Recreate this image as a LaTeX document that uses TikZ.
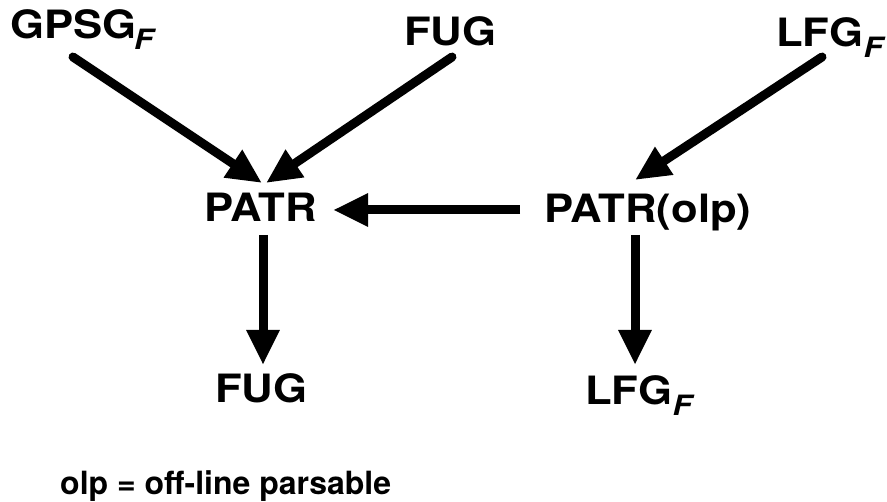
\documentclass[tikz,border=0pt]{standalone}
\usepackage{fontspec}
\setmainfont{TeX Gyre Heros}
\usetikzlibrary{arrows.meta}
\newcommand\mylbl[1]{\scalebox{1.12}[1]{\fontsize{39}{41}\selectfont\bfseries #1}}
\newcommand\subF{\raisebox{-11pt}{\fontsize{28}{28}\selectfont\bfseries\itshape F}}
\tikzset{
  lbl/.style={inner sep=0pt, anchor=base west},
  arr/.style={line width=9pt, -{Triangle[length=35pt,width=31pt]}},
}
\begin{document}
\begin{tikzpicture}[x=1pt,y=-1pt]
\useasboundingbox[fill=white] (0,0) rectangle (887,502);
\node[lbl] (gpsg)  at (10,39)  {\mylbl{GPSG\kern-2pt\subF}};
\node[lbl] (fugT)  at (404,46) {\mylbl{FUG}};
\node[lbl] (lfgT)  at (776,47) {\mylbl{LFG\subF}};
\node[lbl] (patr)  at (204,222) {\mylbl{PATR}};
\node[lbl] (patro) at (544,223) {\mylbl{PATR(olp)}};
\node[lbl] (fugB)  at (215,403) {\mylbl{FUG}};
\node[lbl] (lfgB)  at (585,405) {\mylbl{LFG\subF}};
\node[lbl] (note)  at (60,495) {\fontsize{32}{34}\selectfont\bfseries olp = off-line parsable};
\draw[arr, line cap=round] ([xshift=63pt,yshift=-18pt]gpsg.base west) -- ([xshift=58pt,yshift=39pt]patr.base west);
\draw[arr, line cap=round] ([xshift=48pt,yshift=-11pt]fugT.base west) -- ([xshift=62pt,yshift=39pt]patr.base west);
\draw[arr, line cap=round] ([xshift=46pt,yshift=-10pt]lfgT.base west) -- ([xshift=91pt,yshift=43pt]patro.base west);
\draw[arr] ([xshift=-24pt,yshift=13pt]patro.base west) -- ([xshift=129pt,yshift=12pt]patr.base west);
\draw[arr] ([xshift=59pt,yshift=-13pt]patr.base west) -- ([xshift=48pt,yshift=38pt]fugB.base west);
\draw[arr] ([xshift=91pt,yshift=-12pt]patro.base west) -- ([xshift=50pt,yshift=40pt]lfgB.base west);
\end{tikzpicture}
\end{document}
